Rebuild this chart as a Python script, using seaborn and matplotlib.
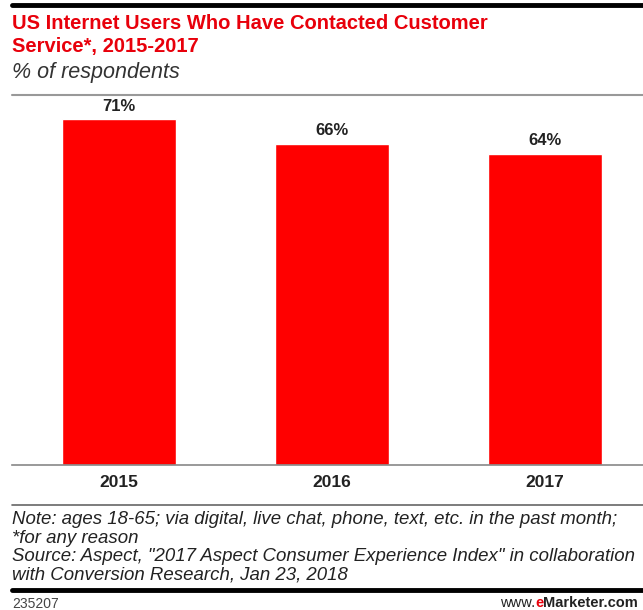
import matplotlib
matplotlib.use("Agg")
import matplotlib.pyplot as plt
import seaborn as sns
import pandas as pd
from matplotlib.lines import Line2D

years = ["2015", "2016", "2017"]
values = [71, 66, 64]
labels = ["71%", "66%", "64%"]

sns.set_theme(style="white")
plt.rcParams['font.family'] = ['Liberation Sans', 'DejaVu Sans']

W, H = 643, 610
fig = plt.figure(figsize=(W / 100, H / 100), dpi=100)

def fx(px):
    return px / W

def fy(py):
    return 1 - py / H

ax = fig.add_axes([fx(12), fy(465), fx(643) - fx(12), fy(100) - fy(465)])
df = pd.DataFrame({"year": years, "value": values})
sns.barplot(data=df, x="year", y="value", color="#ff0000", saturation=1,
            width=0.535, ax=ax)
ax.set_ylim(0, 75)
ax.set_xlim(-0.50, 2.46)
for p, lab in zip(ax.patches, labels):
    ax.text(p.get_x() + p.get_width() / 2, p.get_height() + 1.2, lab,
            ha="center", va="bottom", fontsize=12, fontweight="bold", color="#222222")
ax.set_xlabel("")
ax.set_ylabel("")
ax.set_yticks([])
for s in ["top", "right", "left"]:
    ax.spines[s].set_visible(False)
ax.spines["bottom"].set_color("#888888")
ax.spines["bottom"].set_linewidth(1.2)
ax.tick_params(axis="x", length=0, pad=7)
for t in ax.get_xticklabels():
    t.set_fontsize(12.5)
    t.set_fontweight("bold")
    t.set_color("#222222")

# decorative lines
fig.add_artist(Line2D([fx(12), 1], [fy(5), fy(5)], color="black", lw=3.5))
fig.add_artist(Line2D([fx(12), 1], [fy(95), fy(95)], color="#999999", lw=1.5))
fig.add_artist(Line2D([fx(12), 1], [fy(505), fy(505)], color="#666666", lw=1.2))
fig.add_artist(Line2D([fx(12), 1], [fy(590), fy(590)], color="black", lw=3.5))

fig.text(fx(12), fy(14), "US Internet Users Who Have Contacted Customer\nService*, 2015-2017",
         ha="left", va="top", fontsize=14.5, fontweight="bold", color="#e8000b",
         linespacing=1.25)
fig.text(fx(12), fy(62), "% of respondents", ha="left", va="top", fontsize=15.5,
         style="italic", color="#333333")
note = ("Note: ages 18-65; via digital, live chat, phone, text, etc. in the past month;\n"
        "*for any reason\n"
        "Source: Aspect, \"2017 Aspect Consumer Experience Index\" in collaboration\n"
        "with Conversion Research, Jan 23, 2018")
fig.text(fx(12), fy(511), note, ha="left", va="top", fontsize=13.4,
         style="italic", color="#222222", linespacing=1.12)
fig.text(fx(12), fy(597), "235207", ha="left", va="top", fontsize=10, color="#444444")

# eMarketer wordmark
x0 = fx(500)
fs = 10.5
tw = fig.text(x0, fy(596), "www.", ha="left", va="top", fontsize=fs, color="#222222")
fig.canvas.draw()
r = fig.canvas.get_renderer()
bb = tw.get_window_extent(r)
te = fig.text(bb.x1 / W, fy(596), "e", ha="left", va="top", fontsize=fs,
              fontweight="bold", color="#e8000b")
bb2 = te.get_window_extent(r)
fig.text(bb2.x1 / W, fy(596), "Marketer.com", ha="left", va="top", fontsize=fs,
         fontweight="bold", color="#222222")

fig.savefig("out.png", dpi=100)
